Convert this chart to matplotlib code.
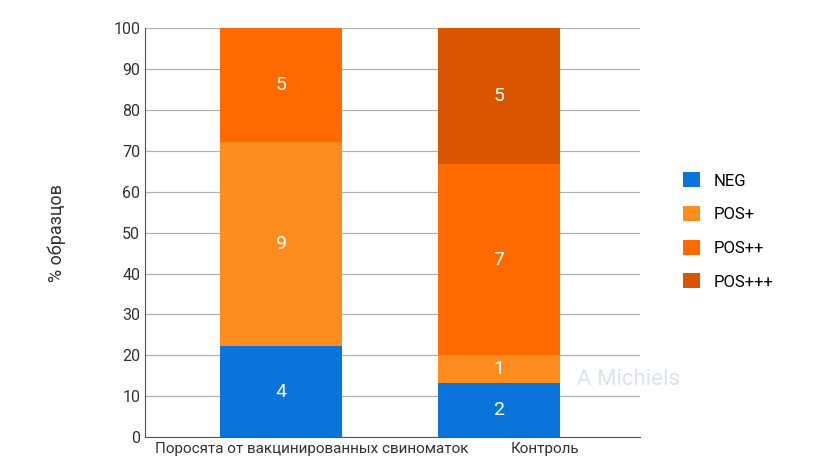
import matplotlib
matplotlib.use("Agg")
import matplotlib.pyplot as plt
import matplotlib.transforms as mtransforms
import numpy as np

plt.rcParams['font.family'] = ['Roboto', 'DejaVu Sans']

categories = ["Поросята от вакцинированных свиноматок", "Контроль"]
series = ["NEG", "POS+", "POS++", "POS+++"]
counts = {
    "NEG": [4, 2],
    "POS+": [9, 1],
    "POS++": [5, 7],
    "POS+++": [0, 5],
}
colors = {"NEG": "#0a74da", "POS+": "#ff8c1e", "POS++": "#ff6a00", "POS+++": "#d95500"}

totals = np.sum([counts[s] for s in series], axis=0)
fig = plt.figure(figsize=(8.2, 4.62), dpi=100)
ax = fig.add_axes([0.177, 0.054, 0.603, 0.885])
x = np.arange(len(categories))
bottom = np.zeros(len(categories))
for s in series:
    vals = np.array(counts[s]) / totals * 100
    ax.bar(x, vals, 0.56, bottom=bottom, color=colors[s], label=s, zorder=3)
    for i, (v, c) in enumerate(zip(vals, counts[s])):
        if c > 0:
            ax.text(x[i], bottom[i] + v / 2, str(c), ha="center", va="center",
                    color="white", fontsize=14, zorder=4)
    bottom += vals

ax.set_xlim(-0.624, 1.647)
ax.set_ylim(0, 100)
ax.set_yticks(range(0, 101, 10))
ax.yaxis.grid(True, color="#b0b0b0", lw=0.9, zorder=0)
ax.set_xticks(x)
ax.set_xticklabels([])
offsets = [31, 46]
trans = mtransforms.blended_transform_factory(ax.transData, ax.transAxes)
for xi, cat, off in zip(x, categories, offsets):
    ax.text(xi, -0.012, cat, transform=trans + mtransforms.ScaledTranslation(off / 100, 0, fig.dpi_scale_trans),
            ha="center", va="top", fontsize=11, color="#333333")
ax.tick_params(axis="y", labelsize=11.5, colors="#333333", length=0)
ax.tick_params(axis="x", length=0, pad=3)
for sp in ["top", "right"]:
    ax.spines[sp].set_visible(False)
ax.spines["left"].set_color("#555555")
ax.spines["bottom"].set_color("#555555")
ax.set_ylabel("% образцов", fontsize=13, color="#333333", labelpad=34)
ax.text(1.36, 14, "A Michiels", fontsize=16, color="#dbe3ee", ha="left", va="center", zorder=5)

fig.legend(loc="center left", bbox_to_anchor=(0.815, 0.5), frameon=False,
           fontsize=12, handlelength=1.0, handleheight=1.0, labelspacing=1.05)
fig.savefig("out.png", dpi=100)
